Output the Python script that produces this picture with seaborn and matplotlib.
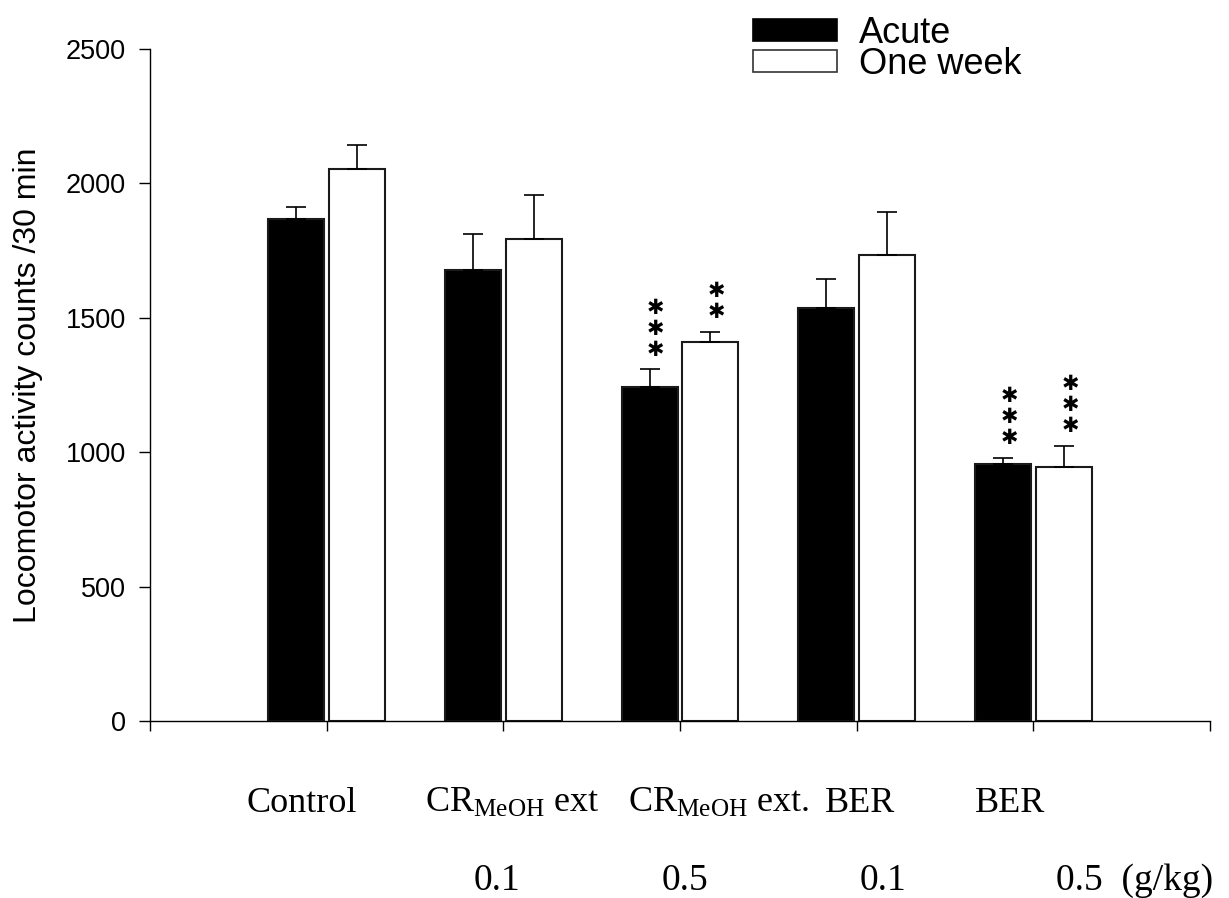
import numpy as np
import pandas as pd
import matplotlib
matplotlib.use("Agg")
import matplotlib.pyplot as plt
from matplotlib.patches import Patch
import seaborn as sns

# Locomotor activity per treatment group, mean and SEM
groups = ["Control", "CR 0.1", "CR 0.5", "BER 0.1", "BER 0.5"]
periods = ["Acute", "One week"]
acute = [1866, 1679, 1243, 1537, 955]
acute_se = [47, 133, 66, 108, 24]
week = [2054, 1793, 1411, 1735, 945]
week_se = [88, 165, 37, 159, 79]
acute_marks = ["", "", "***", "", "***"]
week_marks = ["", "", "**", "", "***"]
name_lines = ["Control", r"CR$_{\mathrm{MeOH}}$ ext", r"CR$_{\mathrm{MeOH}}$ ext.", "BER", "BER"]
dose_lines = ["", "0.1", "0.5", "0.1", "0.5  (g/kg)"]
y_ticks = [0, 500, 1000, 1500, 2000, 2500]

sns.set_theme(style="ticks")
plt.rcParams["font.family"] = ["Liberation Sans", "DejaVu Sans"]
plt.rcParams["mathtext.fontset"] = "custom"
plt.rcParams["mathtext.rm"] = "Liberation Serif"
plt.rcParams["mathtext.it"] = "Liberation Serif:italic"
plt.rcParams["mathtext.bf"] = "Liberation Serif:bold"
for key in ("text.color", "axes.labelcolor", "xtick.color", "ytick.color",
            "axes.edgecolor"):
    plt.rcParams[key] = "black"

df = pd.DataFrame({
    "group": groups * 2,
    "period": [periods[0]] * len(groups) + [periods[1]] * len(groups),
    "count": acute + week,
})

W, H = 1229, 898
fig = plt.figure(figsize=(W / 100, H / 100), dpi=100)
ax = fig.add_axes([150 / W, 1 - 721 / H, 1060 / W, 672 / H])

sns.barplot(data=df, x="group", y="count", hue="period", order=groups,
            hue_order=periods, palette=["black", "white"], saturation=1,
            edgecolor="#1a1a1a", linewidth=1.5, width=0.69, gap=0.082,
            errorbar=None, legend=False, ax=ax)

bar_sets = list(ax.containers[:2])
for cont, vals, ses, marks in zip(bar_sets, [acute, week], [acute_se, week_se],
                                   [acute_marks, week_marks]):
    xs = [b.get_x() + b.get_width() / 2 for b in cont]
    ax.errorbar(xs, vals, yerr=[np.zeros(len(vals)), ses], fmt="none",
                ecolor="black", elinewidth=1.2, capsize=7.5, capthick=1.2)
    # significance stars stacked above the error bar
    for x, v, s, m in zip(xs, vals, ses, marks):
        for k in range(len(m)):
            ax.annotate("\u2731", xy=(x, v + s), xytext=(4.5, 14 + k * 15.1),
                        textcoords="offset points", ha="center", va="center",
                        fontsize=15, family="DejaVu Sans", color="black")

ax.set_xlim(-1, 5)
ax.set_ylim(0, 2500)
ax.set_yticks(y_ticks)
ax.set_xticks(range(-1, 6))
ax.set_xticklabels([])
ax.set_xlabel("")
ax.tick_params(axis="y", labelsize=19.5, length=7.6, width=1, pad=9.7)
ax.tick_params(axis="x", length=7.0, width=1)
ax.set_ylabel("Locomotor activity counts /30 min", fontsize=23)
ax.yaxis.set_label_coords(-0.101, 0.5)
sns.despine(ax=ax)
for side in ("left", "bottom"):
    ax.spines[side].set_linewidth(1.0)

# Group names and doses under the axis
xt = ax.get_xaxis_transform()
name_x = [-0.14, 1.05, 2.22, 3.02, 3.87]
dose_x = [None, 0.964, 2.03, 3.15, 4.13]
for nx, label in zip(name_x, name_lines):
    ax.text(nx, -0.1354, label, transform=xt, ha="center", va="baseline",
            fontsize=26, family="Liberation Serif")
for dx, label in zip(dose_x, dose_lines):
    if label:
        ha = "left" if "(" in label else "center"
        ax.text(dx, -0.252, label, transform=xt, ha=ha, va="baseline",
                fontsize=27, family="Liberation Serif")

handles = [Patch(facecolor="black", edgecolor="black", linewidth=1.2),
           Patch(facecolor="white", edgecolor="#333333", linewidth=1.2)]
fig.legend(handles, periods, loc="upper left",
           bbox_to_anchor=(753 / W, 1 - 16 / H), frameon=False, fontsize=26,
           handlelength=84 / 36.1, handleheight=20 / 36.1, handletextpad=0.6,
           labelspacing=-0.12, borderpad=0, borderaxespad=0)

fig.savefig("out.png", dpi=100)
